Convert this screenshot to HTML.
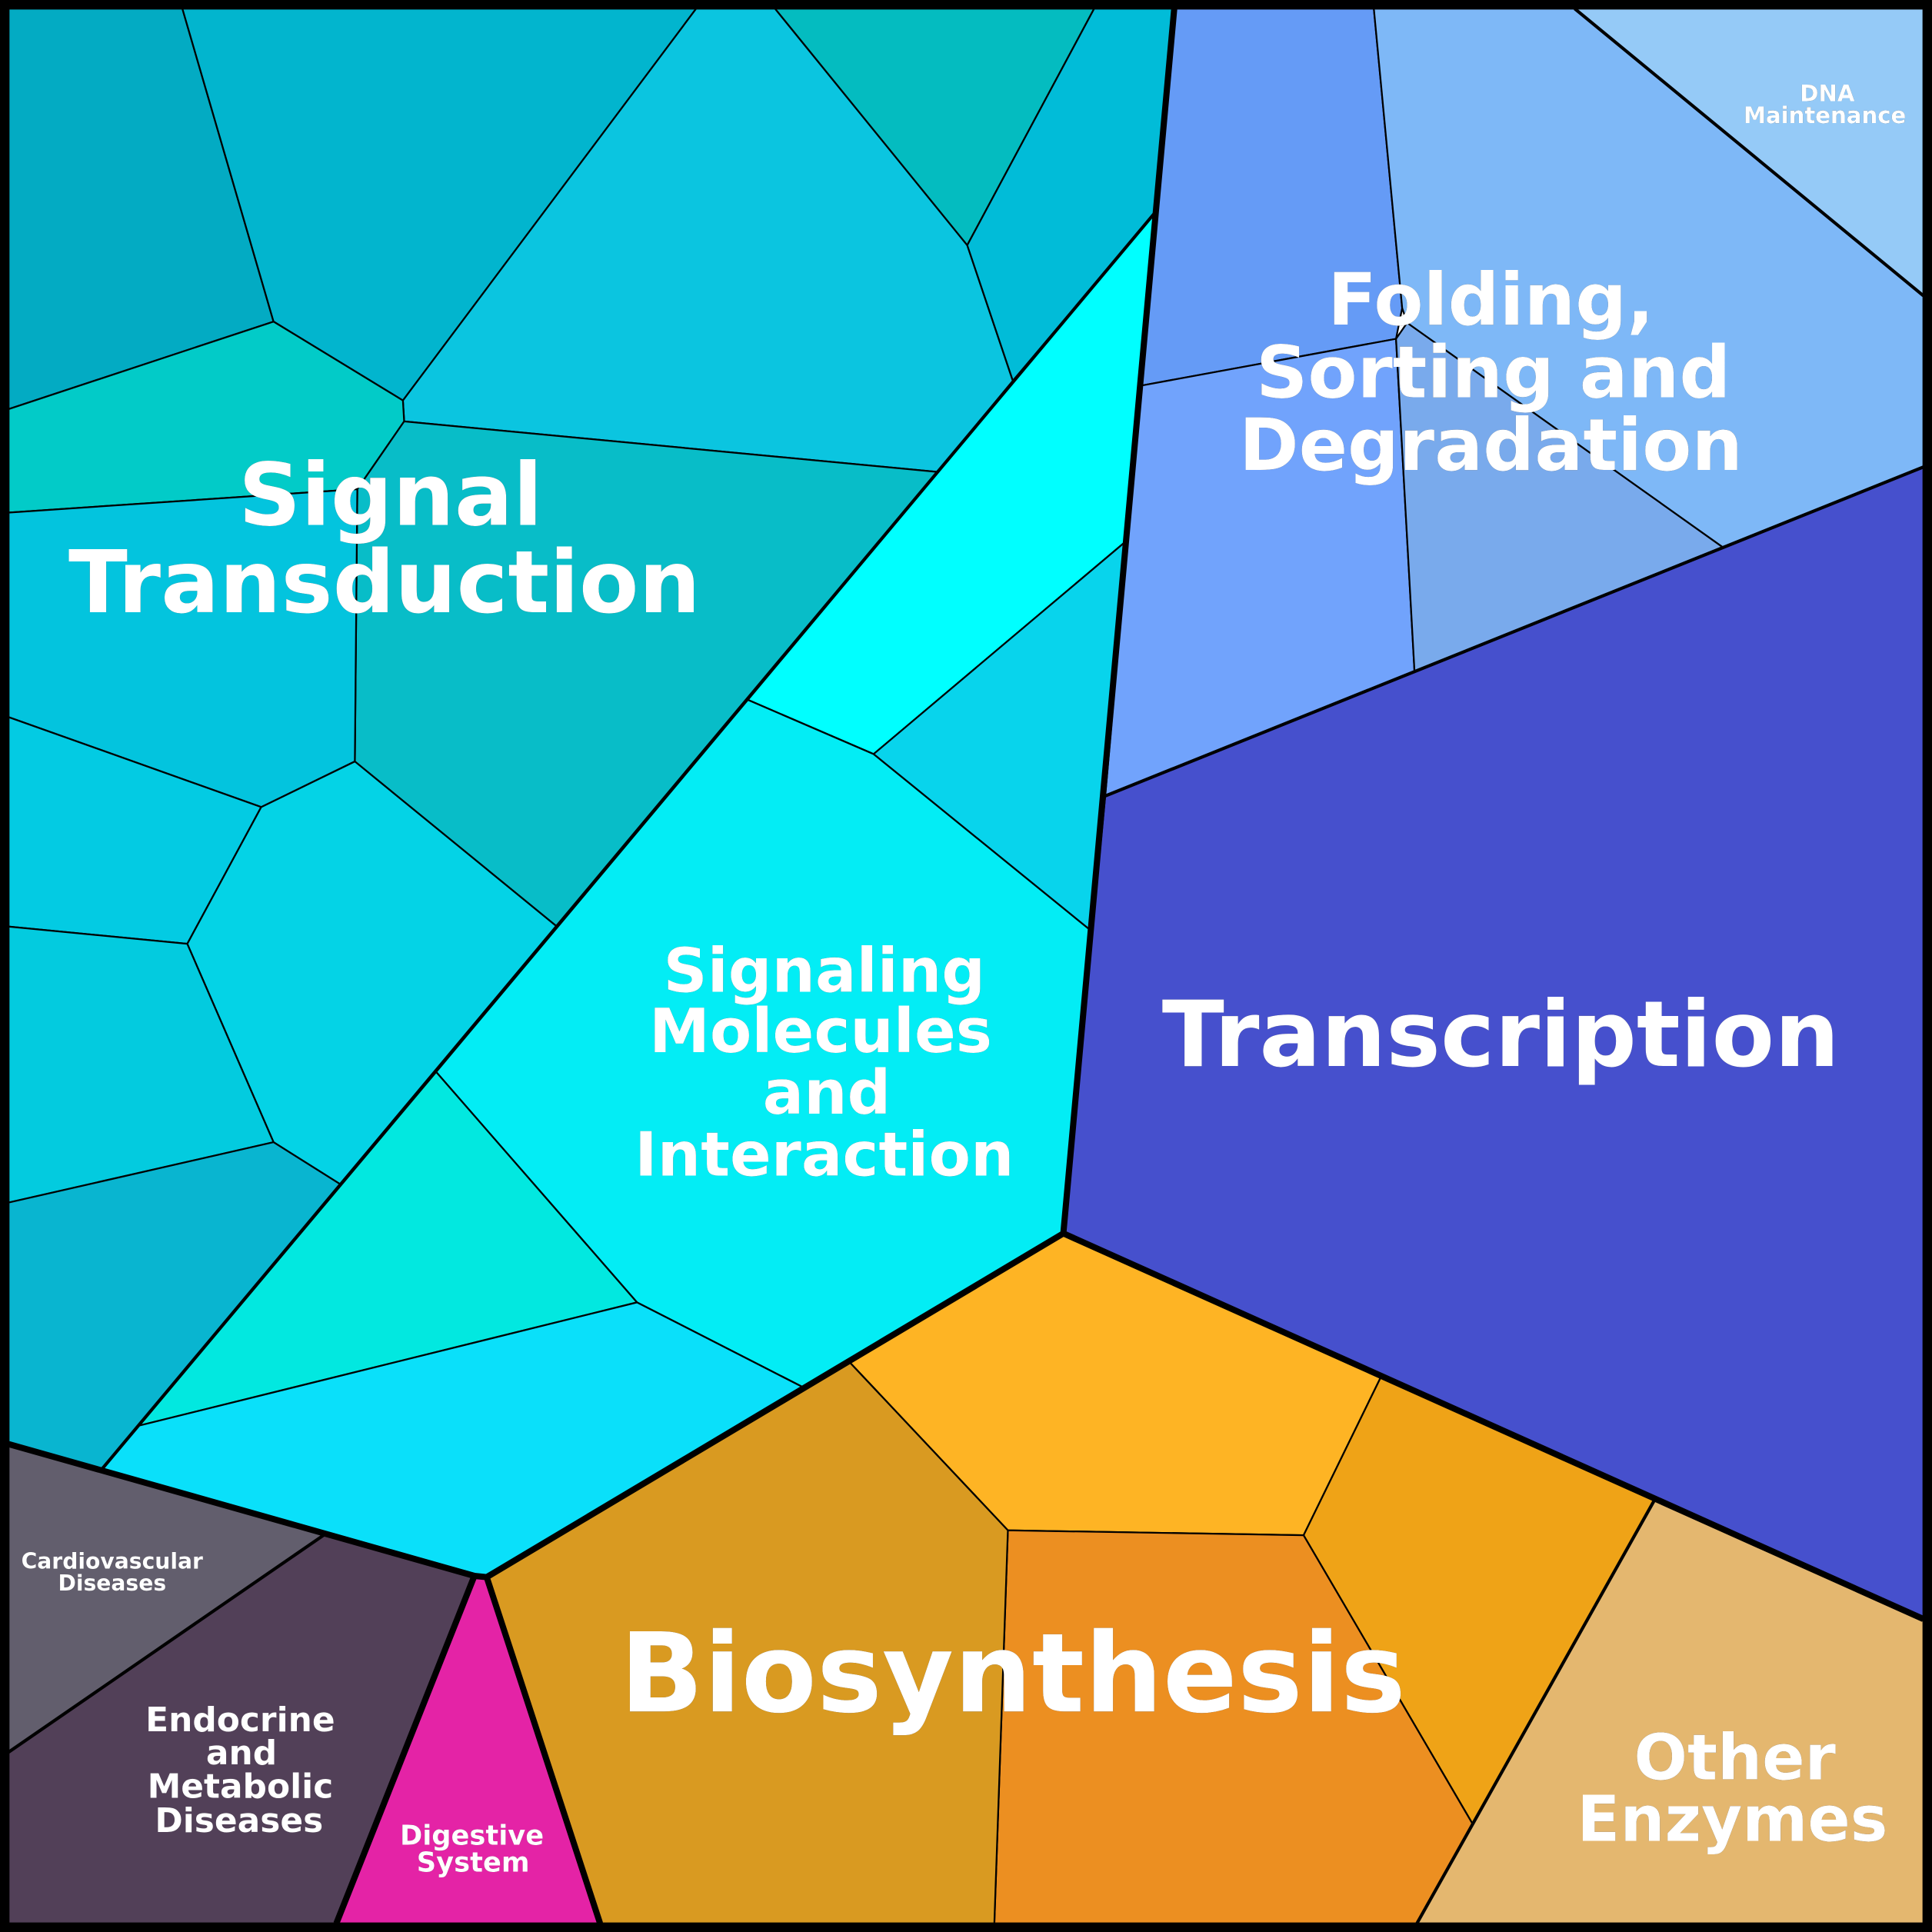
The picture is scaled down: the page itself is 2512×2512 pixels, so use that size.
<!DOCTYPE html>
<html><head><meta charset="utf-8"><style>
html,body{margin:0;padding:0;background:#fff}
svg{display:block}
text{font-family:"DejaVu Sans","Liberation Sans",sans-serif;font-weight:700;fill:#fff;text-anchor:middle}
.t{filter:drop-shadow(.8px .8px 0 #000)}
</style></head><body>
<svg width="2512" height="2512" viewBox="0 0 1568 1568" xmlns="http://www.w3.org/2000/svg">
<g stroke="#000" stroke-width="1.4" stroke-linejoin="round">
<polygon fill="#03abc3" points="7,7 148,7 222,261 7,332"/>
<polygon fill="#02b5ce" points="148,7 565,7 327,325 222,261"/>
<polygon fill="#0bc5e0" points="565,7 629,7 785,199 822,309 761,383 328,342 327,325"/>
<polygon fill="#04bcc0" points="629,7 888,7 785,199"/>
<polygon fill="#01bcd8" points="888,7 953,7 937,173 822,309 785,199"/>
<polygon fill="#02cbc8" points="7,332 222,261 327,325 328,342 290,397 7,416"/>
<polygon fill="#08bdc8" points="328,342 761,383 452,752 288,618 290,397"/>
<polygon fill="#03c4de" points="7,416 290,397 288,618 212,655 7,582"/>
<polygon fill="#03cbe3" points="7,582 212,655 152,766 7,752"/>
<polygon fill="#04d3e6" points="212,655 288,618 452,752 276,961 222,927 152,766"/>
<polygon fill="#03cbdf" points="7,752 152,766 222,927 7,976"/>
<polygon fill="#09b5d0" points="7,976 222,927 276,961 83,1192 7,1172"/>
<polygon fill="#00ffff" points="937,173 913,440 709,612 607,568"/>
<polygon fill="#08d4ec" points="913,440 885,755 709,612"/>
<polygon fill="#03edf5" points="607,568 709,612 885,755 863,1001 652,1126 517,1057 354,870"/>
<polygon fill="#02e8e0" points="354,870 517,1057 113,1157"/>
<polygon fill="#0ae0fa" points="113,1157 517,1057 652,1126 395,1280 83,1192"/>
<polygon fill="#659bf6" points="953,7 1115,7 1138,250 1133,275 926,313"/>
<polygon fill="#71a3fc" points="926,313 1133,275 1148,545 897,646"/>
<polygon fill="#7eb8f7" points="1115,7 1278,7 1561,240 1561,379 1398,444 1142,262 1138,250"/>
<polygon fill="#79aaec" points="1133,275 1142,262 1398,444 1148,545"/>
<polygon fill="#95caf7" points="1278,7 1561,7 1561,240"/>
<polygon fill="#4650cd" points="897,646 1561,379 1561,1314 863,1001"/>
<polygon fill="#feb424" points="863,1001 1121,1117 1058,1246 818,1242 689,1105"/>
<polygon fill="#efa317" points="1121,1117 1343,1217 1195,1480 1058,1246"/>
<polygon fill="#ec8f21" points="818,1242 1058,1246 1195,1480 1150,1561 807,1561"/>
<polygon fill="#d99a21" points="395,1280 689,1105 818,1242 807,1561 487,1561"/>
<polygon fill="#e4b76f" points="1343,1217 1561,1314 1561,1561 1150,1561"/>
<polygon fill="#625e6d" points="7,1172 264,1245 7,1422"/>
<polygon fill="#524058" points="264,1245 385,1279 273,1561 7,1561 7,1422"/>
<polygon fill="#e423a6" points="385,1279 395,1280 487,1561 273,1561"/>
</g>
<g fill="none" stroke="#000" stroke-width="2.6">
<path d="M937,173L83,1192M897,646L1561,379M1278,7L1561,240M1343,1217L1150,1561M264,1245L7,1422"/>
</g>
<g fill="none" stroke="#000" stroke-width="5" stroke-linejoin="round">
<path d="M953,7L863,1001L1561,1314M863,1001L395,1280L385,1279L7,1172M385,1279L273,1561M395,1280L487,1561"/>
</g>
<rect x="0" y="0" width="1568" height="1568" fill="none" stroke="#000" stroke-width="15"/>
<g class="t">
<g font-size="70.4"><text x="317" y="426">Signal</text><text x="312" y="497">Transduction</text></g>
<g font-size="58.4"><text x="1210" y="263.5">Folding,</text><text x="1212" y="322.5">Sorting and</text><text x="1210" y="381.5">Degradation</text></g>
<g font-size="18.2"><text x="1483" y="82">DNA</text><text x="1481" y="100">Maintenance</text></g>
<g font-size="49.5"><text x="669" y="805">Signaling</text><text x="666" y="854">Molecules</text><text x="671" y="904">and</text><text x="669" y="954">Interaction</text></g>
<text x="1218" y="865" font-size="74.2">Transcription</text>
<text x="822" y="1389" font-size="89.2">Biosynthesis</text>
<g font-size="51"><text x="1408" y="1444">Other</text><text x="1406" y="1494">Enzymes</text></g>
<g font-size="27.4"><text x="195" y="1405">Endocrine</text><text x="196" y="1432">and</text><text x="195" y="1459">Metabolic</text><text x="194" y="1487">Diseases</text></g>
<g font-size="22"><text x="383" y="1497">Digestive</text><text x="384" y="1519">System</text></g>
<g font-size="17.6"><text x="91" y="1273">Cardiovascular</text><text x="91" y="1291">Diseases</text></g>
</g>
</svg>
</body></html>
